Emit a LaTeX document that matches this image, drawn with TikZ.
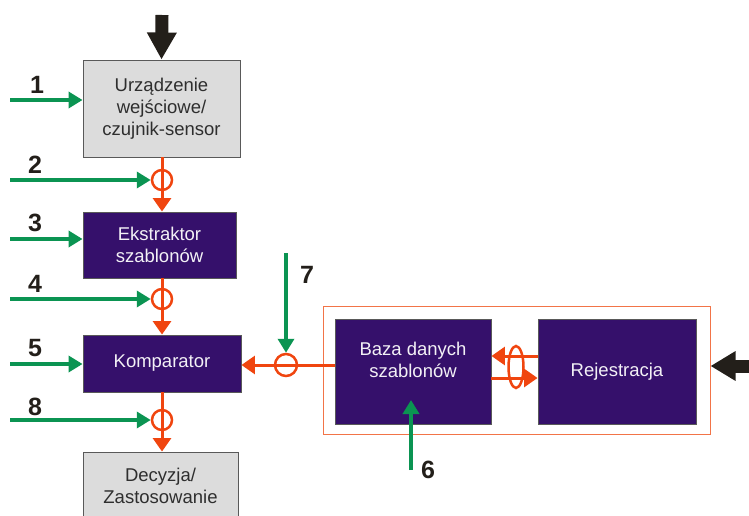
\documentclass[tikz,border=0pt]{standalone}
\usepackage{fontspec}
\setmainfont{Liberation Sans}
\usetikzlibrary{arrows.meta,shapes.geometric}
\definecolor{purp}{HTML}{35106B}
\definecolor{grn}{HTML}{0B9452}
\definecolor{org}{HTML}{F0450F}
\definecolor{orgl}{HTML}{F27448}
\definecolor{lgray}{HTML}{DCDCDC}
\definecolor{txtgray}{HTML}{2E2E2E}
\definecolor{blk}{HTML}{231F1A}
\begin{document}
\begin{tikzpicture}[x=1pt,y=-1pt,
  box/.style={draw=black!65, line width=0.9pt, inner sep=0pt, align=center,
    font=\fontsize{18.5}{22}\selectfont},
  lightbox/.style={box, fill=lgray, text=txtgray},
  darkbox/.style={box, fill=purp, text=white!94!purp},
  num/.style={font=\fontsize{25}{30}\selectfont\bfseries, text=blk, inner sep=0pt},
  garrow/.style={draw=grn, line width=3.8pt, -{Triangle[length=14pt,width=16pt]}},
  oline/.style={draw=org, line width=3pt},
  oarrow/.style={oline, -{Triangle[length=13.5pt,width=18pt]}},
  ring/.style={draw=org, line width=2.5pt, circle, minimum size=20pt, inner sep=0pt},
  barrow/.style={draw=blk, fill=blk}
]
\useasboundingbox (0,0) rectangle (749,516);
\clip (0,0) rectangle (749,516);

% boxes
\node[lightbox, minimum width=157pt, minimum height=97pt] (dev) at (161.5,108.5)
  {Urządzenie\\wejściowe/\\czujnik-sensor};
\node[darkbox, minimum width=153pt, minimum height=66pt] (ext) at (159.5,245)
  {Ekstraktor\\szablonów};
\node[darkbox, minimum width=158pt, minimum height=57pt] (cmp) at (162,363.5)
  {Komparator};
\node[lightbox, minimum width=155pt, minimum height=68pt] (dec) at (160.5,486)
  {Decyzja/\\Zastosowanie};

\node[draw=orgl, line width=1pt, minimum width=387pt, minimum height=128pt, inner sep=0pt] (sys) at (516.5,370) {};
\node[darkbox, minimum width=156pt, minimum height=105pt] (db) at (413,371.5) {};
\node[align=center, text=white!94!purp, font=\fontsize{18.5}{22}\selectfont] (dbt) at (413,360)
  {Baza danych\\szablonów};
\node[darkbox, minimum width=158pt, minimum height=105pt] (reg) at (617,371.5)
  {Rejestracja};

% rings
\node[ring] (r2) at (162,180) {};
\node[ring] (r4) at (162,299) {};
\node[ring] (r8) at (162,420) {};
\node[ring, minimum size=22pt] (r7) at (286,365) {};
\node[draw=org, line width=2.5pt, ellipse, minimum width=15pt, minimum height=42pt, inner sep=0pt] (rr) at (516,367) {};

% orange flow
\draw[oarrow] (dev.south -| r2) -- (ext.north -| r2);
\draw[oarrow] (ext.south -| r4) -- (cmp.north -| r4);
\draw[oarrow] (cmp.south -| r8) -- (dec.north -| r8);
\draw[oarrow] (db.west |- r7) -- (cmp.east |- r7);
\coordinate (u1) at (538,356);
\coordinate (u2) at (491,356);
\coordinate (l1) at (491,378);
\coordinate (l2) at (538,378);
\draw[oarrow] (reg.west |- u1) -- (db.east |- u2);
\draw[oarrow] (db.east |- l1) -- (reg.west |- l2);

% green inputs
\coordinate (g1) at (10,100);
\coordinate (g2) at (10,180);
\coordinate (g3) at (10,239);
\coordinate (g4) at (10,299);
\coordinate (g5) at (10,364);
\coordinate (g8) at (10,420);
\coordinate (g7) at (286,253);
\coordinate (g6) at (411,470);
\coordinate (g6e) at (411,400);
\draw[garrow] (g1) -- (dev.west |- g1);
\draw[garrow] (g2) -- (r2.west);
\draw[garrow] (g3) -- (ext.west |- g3);
\draw[garrow] (g4) -- (r4.west);
\draw[garrow] (g5) -- (cmp.west |- g5);
\draw[garrow] (g8) -- (r8.west);
\draw[garrow] (g7) -- (r7.north);
\draw[garrow] (g6) -- (g6e);

% labels
\node[num] (n1) at (37,85) {1};
\node[num] (n2) at (35,165) {2};
\node[num] (n3) at (35,223) {3};
\node[num] (n4) at (35,284) {4};
\node[num] (n5) at (35,348) {5};
\node[num] (n8) at (35,407) {8};
\node[num] (n7) at (307,275) {7};
\node[num] (n6) at (428,470) {6};

% black arrows
\coordinate (bt) at (162,15);
\draw[blk, line width=13pt, -{Triangle[length=27pt,width=28pt]}] (bt) -- (dev.north);
\coordinate (br) at (760,366);
\draw[blk, line width=13pt, -{Triangle[length=25pt,width=28pt]}] (br) -- (sys.east |- br);
\end{tikzpicture}
\end{document}
